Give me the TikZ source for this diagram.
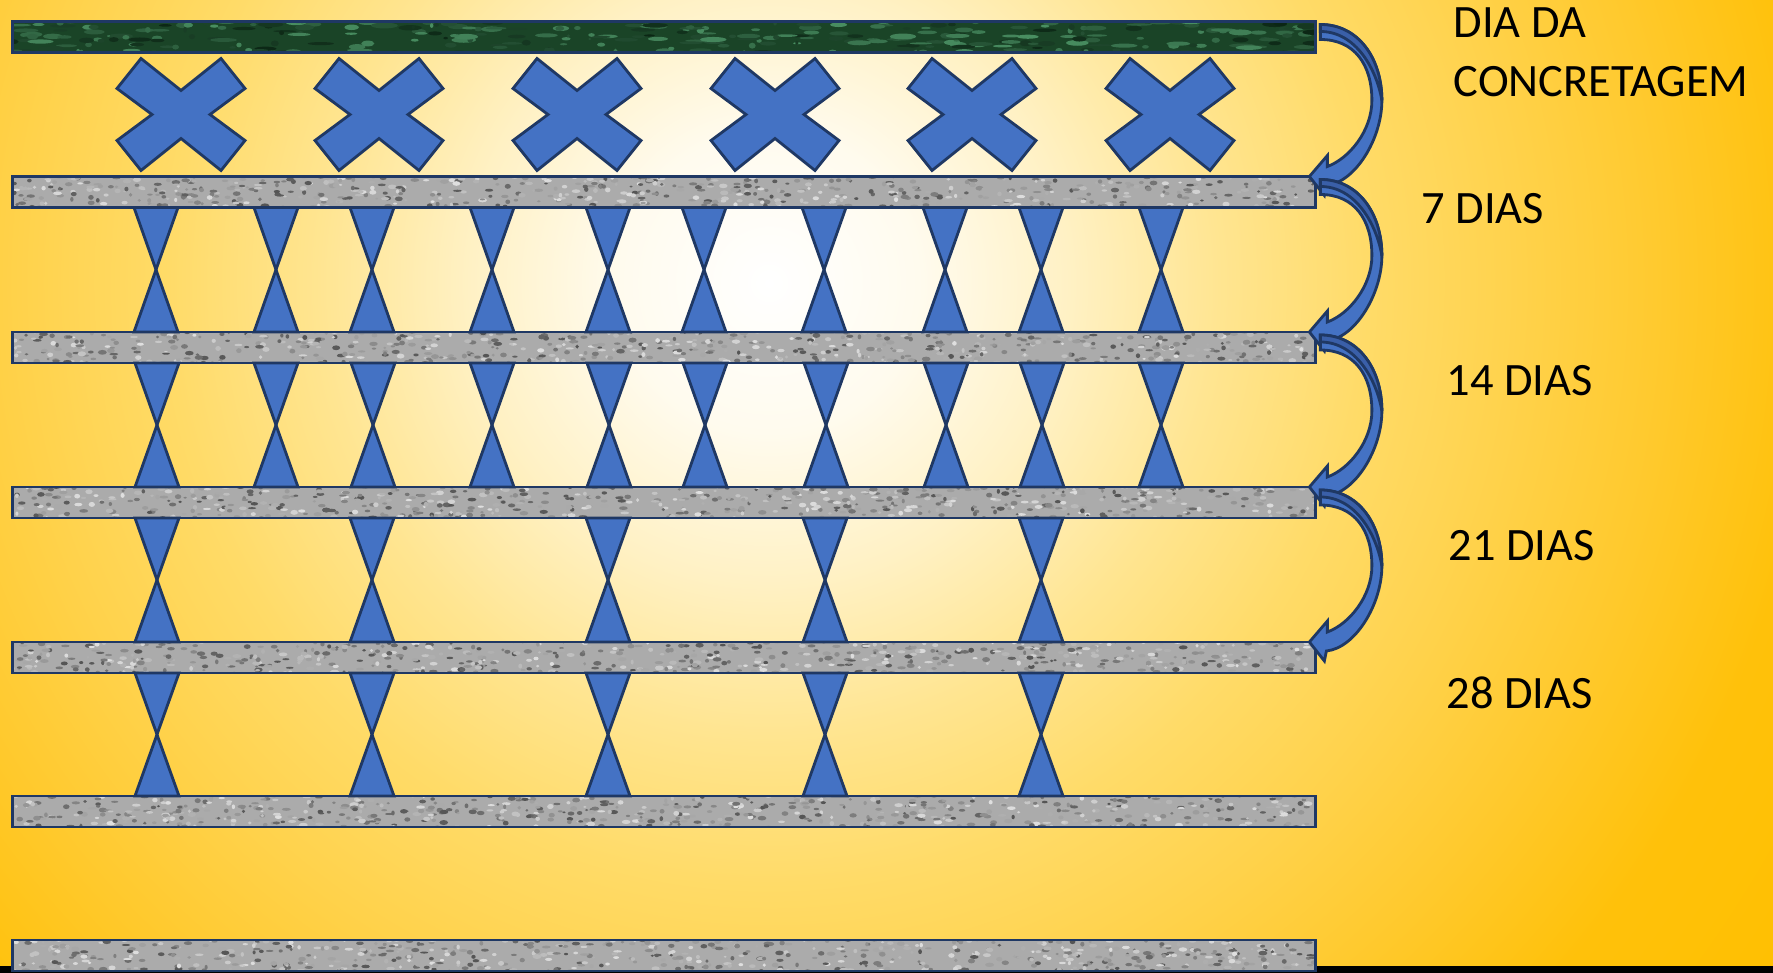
\documentclass[tikz,border=0pt]{standalone}
\usepackage{fontspec}
\setmainfont{Carlito}
\usetikzlibrary{calc}
\definecolor{propblue}{HTML}{4472C4}
\definecolor{propdark}{HTML}{3A5FA8}
\definecolor{navy}{HTML}{1F3864}
\definecolor{slabgray}{HTML}{ABABAB}
\definecolor{grainlt}{HTML}{E0E0E0}
\definecolor{graindk}{HTML}{555555}
\definecolor{marble}{HTML}{1A4427}
\definecolor{marblelt}{HTML}{4A9063}
\definecolor{marbledk}{HTML}{0B2614}
\definecolor{bgA}{HTML}{FFFBEE}
\definecolor{bgB}{HTML}{FFF1C4}
\definecolor{bgC}{HTML}{FFE591}
\definecolor{bgD}{HTML}{FFDB68}
\definecolor{bgE}{HTML}{FFD24B}
\definecolor{bgF}{HTML}{FFC92C}
\definecolor{bgG}{HTML}{FFC10A}
\definecolor{gold}{HTML}{FFC000}
\pgfdeclareradialshading{glow}{\pgfpoint{0bp}{0bp}}{color(0bp)=(white);
  color(3bp)=(bgA); color(6bp)=(bgB); color(9bp)=(bgC); color(12bp)=(bgD);
  color(15bp)=(bgE); color(18bp)=(bgF); color(21bp)=(bgG); color(25bp)=(gold);
  color(50bp)=(gold)}
% random grain inside a slab (used as path picture, origin = slab centre)
\newcommand{\speckles}[5]{%
  \foreach \k in {1,...,#1}{
    \pgfmathsetmacro\sx{rand*657}
    \pgfmathsetmacro\sy{rand*17}
    \pgfmathsetmacro\sg{int(rnd*100)}
    \pgfmathsetmacro\sr{1.5+rnd*#4}
    \pgfmathsetmacro\sh{1+rnd*#5}
    \fill[#2!\sg!#3] (\sx,\sy) ellipse[x radius=\sr, y radius=\sh];
  }}
% bent block arrow from one slab end to the next
\newcommand{\curlarrow}[2]{%
  \path ($(#1.north east)+(5,3)$) coordinate (ct)
        ($(#2.north east)+(-6,0)$) coordinate (cp)
        ($(ct)!0.5!(cp)$) coordinate (cm);
  \filldraw[arrowbody] (ct) .. controls ($(ct)+(38,0)$) and ($(cm)+(67,-42)$) .. ($(cm)+(67,0)$)
    .. controls ($(cm)+(67,38)$) and ($(cp)+(46,6)$) .. ($(cp)+(17,9)$)
    -- ($(cp)+(15,19)$) -- (cp) -- ($(cp)+(18,-21)$) -- ($(cp)+(18,-10)$)
    .. controls ($(cp)+(40,-18)$) and ($(cm)+(57,30)$) .. ($(cm)+(57,0)$)
    .. controls ($(cm)+(57,-36)$) and ($(ct)+(34,15)$) .. ($(ct)+(0,15)$) -- cycle;
  \filldraw[arrowback] (ct) .. controls ($(ct)+(38,0)$) and ($(cm)+(67,-42)$) .. ($(cm)+(67,0)$)
    .. controls ($(cm)+(62,-30)$) and ($(ct)+(36,7)$) .. ($(ct)+(0,7)$) -- cycle;}

\begin{document}
\begin{tikzpicture}[x=0.01cm,y=-0.01cm,
  slab/.style={draw=navy,line width=0.7pt,fill=slabgray,minimum width=13.02cm,
    minimum height=0.31cm,inner sep=0pt,outer sep=0pt,
    path picture={\speckles{700}{grainlt}{graindk}{3}{1.5}}},
  greenslab/.style={slab,fill=marble,path picture={\speckles{320}{marblelt}{marbledk}{12}{2}}},
  prop/.style={fill=propblue,draw=navy,line width=0.8pt},
  arrowbody/.style={fill=propblue,draw=navy,line width=0.8pt},
  arrowback/.style={fill=propdark,draw=navy,line width=0.8pt},
  lbl/.style={inner sep=0pt,font=\fontsize{13.2}{17}\selectfont,align=left}]
  \useasboundingbox (0,0) rectangle (1773,973);
  \begin{scope}
    \clip (0,0) rectangle (1773,973);
    \shade[shading=glow] (769,283) circle[radius=1250];
  \end{scope}
  \fill[black] (0,966) rectangle (1773,973);

  \pgfmathsetseed{2024}
  \node[greenslab] (slab0) at (664,37) {};
  \node[slab] (slab1) at (664,192) {};
  \node[slab] (slab2) at (664,347.5) {};
  \node[slab] (slab3) at (664,502.5) {};
  \node[slab] (slab4) at (664,657.5) {};
  \node[slab] (slab5) at (664,811.5) {};
  \node[slab] (slab6) at (664,955.5) {};

  % crosses under the fresh slab
  \coordinate (xrow) at ($(slab0.south)!0.5!(slab1.north)$);
  \foreach \x in {181,379,577,775,972,1170}
    \filldraw[prop,shift={(\x,0 |- xrow)}] (-40,-56) -- (0,-24) -- (40,-56) -- (64,-26)
      -- (29,0) -- (64,26) -- (40,56) -- (0,24) -- (-40,56) -- (-64,26) -- (-29,0)
      -- (-64,-26) -- cycle;

  % props between slabs
  \foreach \up/\dn/\xs in {slab1/slab2/{156,276,372,492,608,704,824,945,1041,1161},
      slab2/slab3/{157,276,373,492,609,705,826,946,1042,1161},
      slab3/slab4/{157,372,608,825,1041},
      slab4/slab5/{157,372,608,825,1041}}{
    \foreach \x in \xs {
      \path (\x,0 |- \up.south) coordinate (ht) (\x,0 |- \dn.north) coordinate (hb)
        ($(ht)!0.5!(hb)$) coordinate (hw);
      \filldraw[prop] ($(ht)+(-22,0)$) -- ($(ht)+(22,0)$) -- (hw) -- cycle;
      \filldraw[prop] ($(hb)+(-22,0)$) -- ($(hb)+(22,0)$) -- (hw) -- cycle;
    }
  }

  \curlarrow{slab0}{slab1}
  \curlarrow{slab1}{slab2}
  \curlarrow{slab2}{slab3}
  \curlarrow{slab3}{slab4}

  \node[lbl,anchor=base west] (day0) at (1453,97) {DIA DA\\CONCRETAGEM};
  \node[lbl,anchor=base west] (day7) at (1421,223) {7 DIAS};
  \node[lbl,anchor=base west] (day14) at (1446,395) {14 DIAS};
  \node[lbl,anchor=base west] (day21) at (1448,560) {21 DIAS};
  \node[lbl,anchor=base west] (day28) at (1446,708) {28 DIAS};
\end{tikzpicture}
\end{document}
